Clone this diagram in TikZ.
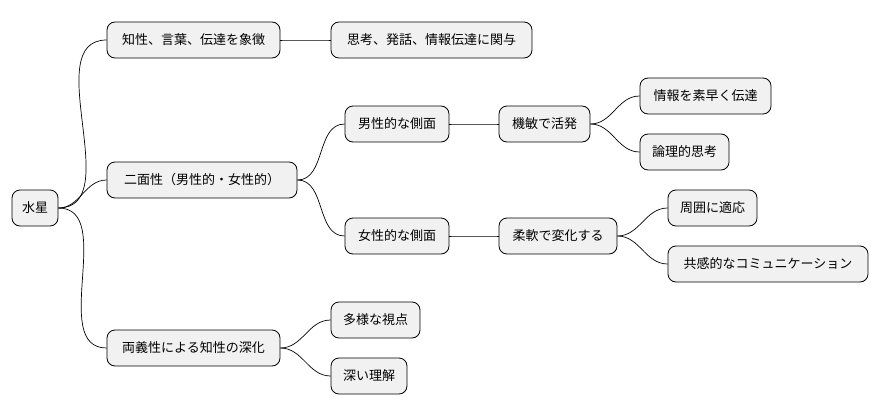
\documentclass[tikz,border=0pt]{standalone}
\usepackage{fontspec}
\setmainfont{Noto Sans CJK JP}
\begin{document}
\begin{tikzpicture}[x=1pt,y=-1pt,
  box/.style={draw=black,fill={rgb,255:red,241;green,241;blue,241},rounded corners=8pt,minimum height=36pt,inner xsep=0pt,font=\fontsize{13}{15}\selectfont,line width=0.8pt},
  ln/.style={draw=black,line width=0.7pt}]
\useasboundingbox (0,0) rectangle (880,415);
\node[box,minimum width=46pt] (r) at (35,208) {水星};
\node[box,minimum width=173pt] (a) at (193.5,40) {知性、言葉、伝達を象徴};
\node[box,minimum width=201pt] (a1) at (431.5,40) {思考、発話、情報伝達に関与};
\node[box,minimum width=190pt] (b) at (202,180) {二面性（男性的・女性的）};
\node[box,minimum width=104pt] (bm) at (397,124) {男性的な側面};
\node[box,minimum width=91pt] (bm1) at (544.5,124) {機敏で活発};
\node[box,minimum width=131pt] (bm2) at (705.5,96) {情報を素早く伝達};
\node[box,minimum width=89pt] (bm3) at (684.5,152) {論理的思考};
\node[box,minimum width=104pt] (bf) at (397,236) {女性的な側面};
\node[box,minimum width=118pt] (bf1) at (558,236) {柔軟で変化する};
\node[box,minimum width=89pt] (bf2) at (712.5,208) {周囲に適応};
\node[box,minimum width=200pt] (bf3) at (768,264) {共感的なコミュニケーション};
\node[box,minimum width=173pt] (c) at (193.5,348) {両義性による知性の深化};
\node[box,minimum width=89pt] (c1) at (375.5,320) {多様な視点};
\node[box,minimum width=76pt] (c2) at (369,376) {深い理解};
\foreach \p/\c in {r/a,a/a1,r/b,b/bm,bm/bm1,bm1/bm2,bm1/bm3,b/bf,bf/bf1,bf1/bf2,bf1/bf3,r/c,c/c1,c/c2}
  \draw[ln] (\p.east) to[out=0,in=180] (\c.west);
\end{tikzpicture}
\end{document}
